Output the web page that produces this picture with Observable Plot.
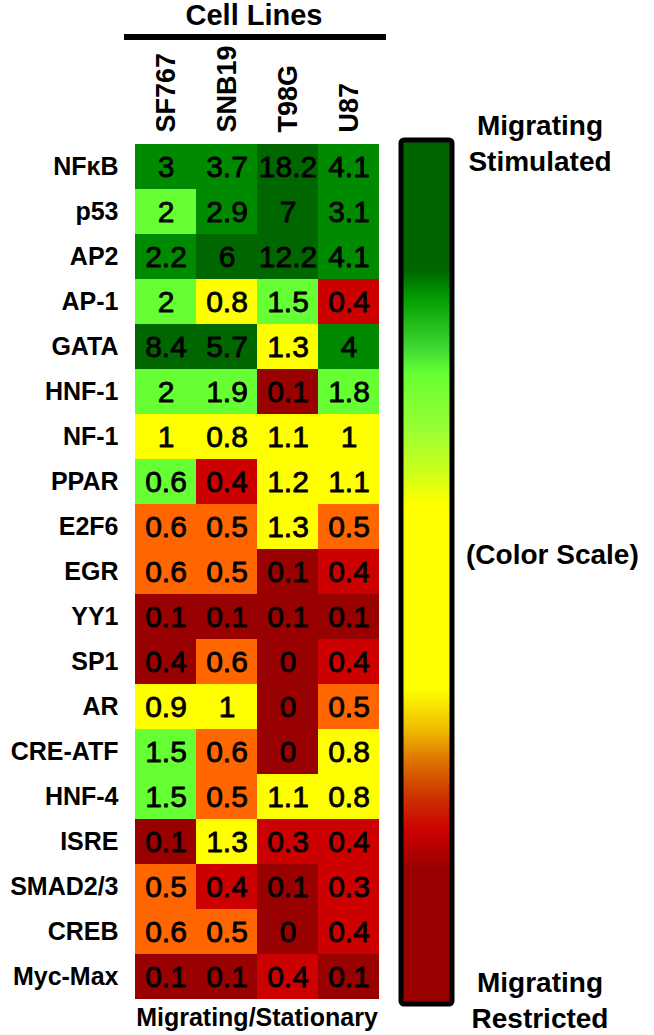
<!DOCTYPE html>
<html>
<head>
<meta charset="utf-8">
<script src="https://cdn.jsdelivr.net/npm/d3@7"></script>
<script src="https://cdn.jsdelivr.net/npm/@observablehq/plot@0.6"></script>
<style>
  html, body { margin: 0; padding: 0; background: #fff; }
  svg { display: block; }
</style>
</head>
<body>
<div id="chart"></div>
<script>
// ---- data ----
const cellLines = ["SF767", "SNB19", "T98G", "U87"];
const factors = ["NFκB", "p53", "AP2", "AP-1", "GATA", "HNF-1", "NF-1", "PPAR", "E2F6", "EGR",
  "YY1", "SP1", "AR", "CRE-ATF", "HNF-4", "ISRE", "SMAD2/3", "CREB", "Myc-Max"];
// Migrating/Stationary ratios, one row per factor (SF767, SNB19, T98G, U87)
const ratios = [
  [3, 3.7, 18.2, 4.1],
  [2, 2.9, 7, 3.1],
  [2.2, 6, 12.2, 4.1],
  [2, 0.8, 1.5, 0.4],
  [8.4, 5.7, 1.3, 4],
  [2, 1.9, 0.1, 1.8],
  [1, 0.8, 1.1, 1],
  [0.6, 0.4, 1.2, 1.1],
  [0.6, 0.5, 1.3, 0.5],
  [0.6, 0.5, 0.1, 0.4],
  [0.1, 0.1, 0.1, 0.1],
  [0.4, 0.6, 0, 0.4],
  [0.9, 1, 0, 0.5],
  [1.5, 0.6, 0, 0.8],
  [1.5, 0.5, 1.1, 0.8],
  [0.1, 1.3, 0.3, 0.4],
  [0.5, 0.4, 0.1, 0.3],
  [0.6, 0.5, 0, 0.4],
  [0.1, 0.1, 0.4, 0.1]
];
// colour class of each cell as shown in the figure (L1 = most stimulated … L7 = most restricted)
const levels = [
  ["L2", "L2", "L1", "L2"],
  ["L3", "L2", "L1", "L2"],
  ["L2", "L1", "L1", "L2"],
  ["L3", "L4", "L3", "L6"],
  ["L1", "L1", "L4", "L2"],
  ["L3", "L3", "L7", "L3"],
  ["L4", "L4", "L4", "L4"],
  ["L3", "L6", "L4", "L4"],
  ["L5", "L5", "L4", "L5"],
  ["L5", "L5", "L7", "L6"],
  ["L7", "L7", "L7", "L7"],
  ["L7", "L5", "L7", "L6"],
  ["L4", "L4", "L7", "L5"],
  ["L3", "L5", "L7", "L4"],
  ["L3", "L5", "L4", "L4"],
  ["L7", "L4", "L6", "L6"],
  ["L5", "L6", "L7", "L6"],
  ["L5", "L5", "L7", "L6"],
  ["L7", "L7", "L6", "L7"]
];
const levelNames = ["L1", "L2", "L3", "L4", "L5", "L6", "L7"];
const levelColors = ["#006600", "#008a00", "#66ff33", "#ffff00", "#ff6600", "#cc0000", "#990000"];
// colour-bar gradient (top = Migrating Stimulated, bottom = Migrating Restricted)
const barStops = [0, 0.15, 0.18, 0.245, 0.27, 0.335, 0.385, 0.42, 0.635, 0.68, 0.718, 0.762, 0.8, 0.845, 1];
const barColors = ["#006400", "#006400", "#009900", "#44dd33", "#66ff33", "#99ff33", "#ccff1a", "#ffff00",
  "#ffff00", "#f0c000", "#dd7400", "#cc3000", "#cc0000", "#990000", "#990000"];

const table = [];
factors.forEach((f, i) => cellLines.forEach((c, j) => {
  table.push({factor: f, line: c, value: ratios[i][j], level: levels[i][j]});
}));

const FONT = '"Liberation Sans", Arial, Helvetica, sans-serif';
const W = 654, H = 1035;

const chart = Plot.plot({
  width: W,
  height: H,
  marginLeft: 134,
  marginRight: 274,
  marginTop: 138,
  marginBottom: 30,
  style: {fontFamily: FONT, color: "#000", background: "#fff", overflow: "visible"},
  x: {domain: cellLines, padding: 0, label: null},
  y: {domain: factors, padding: 0, label: null},
  color: {type: "ordinal", domain: levelNames, range: levelColors},
  marks: [
    Plot.cell(table, {x: "line", y: "factor", fill: "level", inset: 0}),
    Plot.text(table, {x: "line", y: "factor", text: d => String(d.value),
      fontSize: 30, fill: "#000", stroke: "#000", strokeWidth: 0.8, fontFamily: FONT}),
    Plot.axisX({anchor: "top", tickSize: 0, tickPadding: 6, tickRotate: -90,
      fontSize: 27, fontWeight: "bold", label: null, fill: "#000"}),
    Plot.axisY({anchor: "left", tickSize: 0, tickPadding: 16,
      fontSize: 25, fontWeight: "bold", label: null, fill: "#000"})
  ]
});

document.getElementById("chart").appendChild(chart);

// ---- annotations and colour bar ----
const svg = d3.select(chart);
const defs = svg.append("defs");
const grad = defs.append("linearGradient").attr("id", "cbar")
  .attr("x1", 0).attr("y1", 0).attr("x2", 0).attr("y2", 1);
barStops.forEach((s, i) => grad.append("stop").attr("offset", s).attr("stop-color", barColors[i]));

const g = svg.append("g").attr("font-family", FONT).attr("fill", "#000");

g.append("text").attr("x", 254).attr("y", 25).attr("text-anchor", "middle")
  .attr("font-size", 29).attr("font-weight", "bold").text("Cell Lines");
g.append("line").attr("x1", 124).attr("x2", 386).attr("y1", 37).attr("y2", 37)
  .attr("stroke", "#000").attr("stroke-width", 6);

g.append("rect").attr("x", 401).attr("y", 140).attr("width", 51).attr("height", 864)
  .attr("rx", 3).attr("fill", "url(#cbar)").attr("stroke", "#000").attr("stroke-width", 5);

const lbl = (x, y, t, anchor, size) => g.append("text").attr("x", x).attr("y", y)
  .attr("text-anchor", anchor).attr("font-size", size).attr("font-weight", "bold").text(t);
lbl(540, 135, "Migrating", "middle", 28);
lbl(540, 171, "Stimulated", "middle", 28);
lbl(466, 564, "(Color Scale)", "start", 28);
lbl(540, 992, "Migrating", "middle", 28);
lbl(540, 1028, "Restricted", "middle", 28);
lbl(257, 1026, "Migrating/Stationary", "middle", 25);
</script>
</body>
</html>
